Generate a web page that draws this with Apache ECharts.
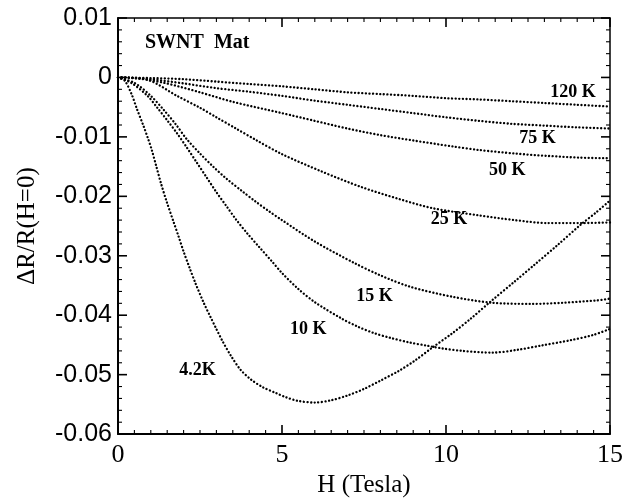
<!DOCTYPE html>
<html>
<head>
<meta charset="utf-8">
<script src="https://cdn.jsdelivr.net/npm/echarts@6/dist/echarts.min.js"></script>
<style>
  html, body { margin: 0; padding: 0; background: #fff; }
  #main { width: 631px; height: 503px; }
</style>
</head>
<body>
<div id="main"></div>
<script>
// magnetoresistance dR/R(H=0) vs H (Tesla)
var t120 = [[0, 0], [1, -0.0001], [2, -0.0003], [3, -0.0007], [4, -0.0011], [5, -0.0015], [6, -0.0020],
  [7, -0.0025], [8, -0.0028], [9, -0.0031], [10, -0.0035], [11, -0.0037], [12, -0.0040], [13, -0.0043],
  [14, -0.0046], [15, -0.0049]];
var t75 = [[0, 0], [1, -0.0003], [2, -0.0010], [3, -0.0018], [4, -0.0024], [5, -0.0031], [6, -0.0039],
  [7, -0.0046], [8, -0.0053], [9, -0.0060], [10, -0.0067], [11, -0.0073], [12, -0.0078], [13, -0.0081],
  [14, -0.0084], [15, -0.0086]];
var t50 = [[0, 0], [0.5, -0.0001], [1.4, -0.0009], [2.5, -0.0025], [3.5, -0.0041], [5, -0.0060], [6, -0.0073],
  [7, -0.0086], [8, -0.0097], [9, -0.0106], [10.2, -0.0116], [11, -0.0122], [12.1, -0.0128], [13.1, -0.0132],
  [14.1, -0.0135], [15, -0.0136]];
var t25 = [[0, 0], [0.9, -0.0004], [1.8, -0.0031], [2.5, -0.0051], [3, -0.0067], [3.6, -0.0086], [4.2, -0.0105],
  [5, -0.0129], [6.2, -0.0158], [7.4, -0.0184], [8.6, -0.0205], [9.6, -0.0220], [11, -0.0232], [12.1, -0.0240],
  [13.1, -0.0245], [14.1, -0.0245], [15, -0.0244]];
var t15 = [[0, 0], [0.5, -0.0009], [1, -0.0031], [1.4, -0.0055], [1.75, -0.0078], [2.1, -0.0104], [2.5, -0.0128],
  [2.9, -0.0150], [3.3, -0.0170], [3.8, -0.0192], [4.2, -0.0209], [4.6, -0.0225], [5, -0.0240], [6, -0.0276],
  [7.2, -0.0312], [8, -0.0333], [8.9, -0.0352], [10.2, -0.0369], [11.4, -0.0379], [12.6, -0.0381],
  [13.6, -0.0379], [14.6, -0.0375], [15, -0.0372]];
var t10 = [[0, 0], [0.4, -0.0009], [0.9, -0.0031], [1.2, -0.0051], [1.5, -0.0072], [1.8, -0.0094], [2.1, -0.0118],
  [2.4, -0.0143], [2.7, -0.0168], [3, -0.0193], [3.3, -0.0216], [3.6, -0.0239], [3.95, -0.0263], [4.3, -0.0285],
  [4.7, -0.0310], [5, -0.0329], [5.5, -0.0356], [6, -0.0378], [6.8, -0.0405], [7.3, -0.0419], [7.8, -0.0430],
  [8.3, -0.0438], [8.9, -0.0446], [9.4, -0.0451], [9.9, -0.0456], [10.5, -0.0460], [11.4, -0.0463],
  [12.2, -0.0458], [12.9, -0.0451], [13.8, -0.0442], [14.5, -0.0433], [15, -0.0423]];
var t4 = [[0, 0], [0.2, -0.0005], [0.42, -0.0029], [0.57, -0.0052], [0.78, -0.0082], [0.91, -0.0102],
  [1.03, -0.0122], [1.17, -0.0150], [1.31, -0.0178], [1.49, -0.0210], [1.7, -0.0244], [1.85, -0.0268],
  [2, -0.0293], [2.18, -0.0320], [2.36, -0.0346], [2.62, -0.0380], [2.82, -0.0403], [2.98, -0.0421],
  [3.18, -0.0443], [3.44, -0.0468], [3.74, -0.0492], [4.05, -0.0508], [4.41, -0.0521], [4.82, -0.0531],
  [5.12, -0.0538], [5.48, -0.0544], [6, -0.0547], [6.5, -0.0543], [7, -0.0535], [7.5, -0.0524], [8, -0.0510],
  [8.55, -0.0494], [9.06, -0.0476], [9.57, -0.0455], [10.2, -0.0430], [10.75, -0.0406], [11.36, -0.0377],
  [12.1, -0.0343], [12.7, -0.0315], [13.4, -0.0282], [14.1, -0.0248], [14.6, -0.0226], [15, -0.0207]];

var curves = [t120, t75, t50, t25, t15, t10, t4];
var curveNames = ['120 K', '75 K', '50 K', '25 K', '15 K', '10 K', '4.2K'];
// where each temperature label sits (H, dR/R)
var labelPos = [[13.87, -0.0025], [12.79, -0.0103], [11.87, -0.0157], [10.09, -0.0239],
  [7.82, -0.0368], [5.8, -0.0423], [2.42, -0.0493]];

var xTicks = [0, 5, 10, 15];
var yTicks = [0.01, 0, -0.01, -0.02, -0.03, -0.04, -0.05, -0.06];

var chart = echarts.init(document.getElementById('main'));

var serif = 'Liberation Serif';

var series = curves.map(function (c, i) {
  return {
    name: curveNames[i],
    type: 'line',
    zlevel: 1,
    data: c,
    smooth: 0.3,
    showSymbol: false,
    silent: true,
    lineStyle: { color: '#000', width: 2.3, type: [0.1, 3.5], cap: 'round' },
  };
});

function frameAxis(extra, lineW) {
  return Object.assign({
    type: 'value',
    axisLine: { show: true, onZero: false, lineStyle: { color: '#000', width: lineW } },
    axisTick: { show: false },
    minorTick: { show: false },
    splitLine: { show: false },
    axisLabel: { show: false },
  }, extra);
}

var option = {
  animation: false,
  backgroundColor: '#fff',
  title: {
    text: 'SWNT  Mat',
    left: 145,
    top: 33,
    padding: 0,
    textStyle: { fontFamily: serif, fontWeight: 'bold', fontSize: 20, color: '#000' },
  },
  grid: { left: 118, right: 21, top: 18, bottom: 66 },
  xAxis: [
    frameAxis({
      position: 'bottom',
      min: xTicks[0],
      max: xTicks[xTicks.length - 1],
      interval: 5,
      name: 'H (Tesla)',
      nameLocation: 'middle',
      nameGap: 36,
      nameTextStyle: { fontFamily: serif, fontSize: 25, color: '#000' },
      axisLabel: { show: true, color: '#000', fontFamily: serif, fontSize: 26, margin: 8 },
    }, 2),
    frameAxis({ position: 'top', min: xTicks[0], max: xTicks[xTicks.length - 1], interval: 5 }, 1.5),
  ],
  yAxis: [
    frameAxis({
      position: 'left',
      min: yTicks[yTicks.length - 1],
      max: yTicks[0],
      interval: 0.01,
      name: 'ΔR/R(H=0)',
      nameLocation: 'middle',
      nameGap: 78,
      nameRotate: 90,
      nameTextStyle: { fontFamily: serif, fontSize: 25, color: '#000' },
      axisLabel: { show: true, color: '#000', fontFamily: 'Liberation Sans', fontSize: 25, margin: 6 },
    }, 2),
    frameAxis({ position: 'right', min: yTicks[yTicks.length - 1], max: yTicks[0], interval: 0.01 }, 1.5),
  ],
  series: series,
};

chart.setOption(option);

// inward ticks on all four sides, placed through the axes' scales
var finder = { xAxisIndex: 0, yAxisIndex: 0 };
var lo = chart.convertToPixel(finder, [xTicks[0], yTicks[yTicks.length - 1]]);
var hi = chart.convertToPixel(finder, [xTicks[xTicks.length - 1], yTicks[0]]);
var gfx = [];
function tickRect(x, y, w, h) {
  gfx.push({ type: 'rect', silent: true, shape: { x: x, y: y, width: w, height: h }, style: { fill: '#000' } });
}
for (var k = 0; k <= 30; k++) {
  var major = k % 10 === 0;
  var len = major ? 9 : 4, w = major ? 1.6 : 1.1;
  var px = chart.convertToPixel(finder, [k * 0.5, 0])[0];
  tickRect(px - w / 2, lo[1] - len, w, len);
  tickRect(px - w / 2, hi[1], w, len);
}
for (var j = 0; j <= 35; j++) {
  var majorY = j % 5 === 0;
  var lenY = majorY ? 9 : 4, wY = majorY ? 1.6 : 1.1;
  var py = chart.convertToPixel(finder, [0, -0.06 + j * 0.002])[1];
  tickRect(lo[0], py - wY / 2, lenY, wY);
  tickRect(hi[0] - lenY, py - wY / 2, lenY, wY);
}
// temperature labels
labelPos.forEach(function (p, i) {
  var c = chart.convertToPixel(finder, p);
  gfx.push({
    type: 'text',
    x: c[0],
    y: c[1],
    silent: true,
    style: {
      text: curveNames[i],
      fill: '#000',
      font: 'bold 18px "Liberation Serif"',
      align: 'center',
      verticalAlign: 'middle',
    },
  });
});
chart.setOption({ graphic: gfx });
</script>
</body>
</html>
